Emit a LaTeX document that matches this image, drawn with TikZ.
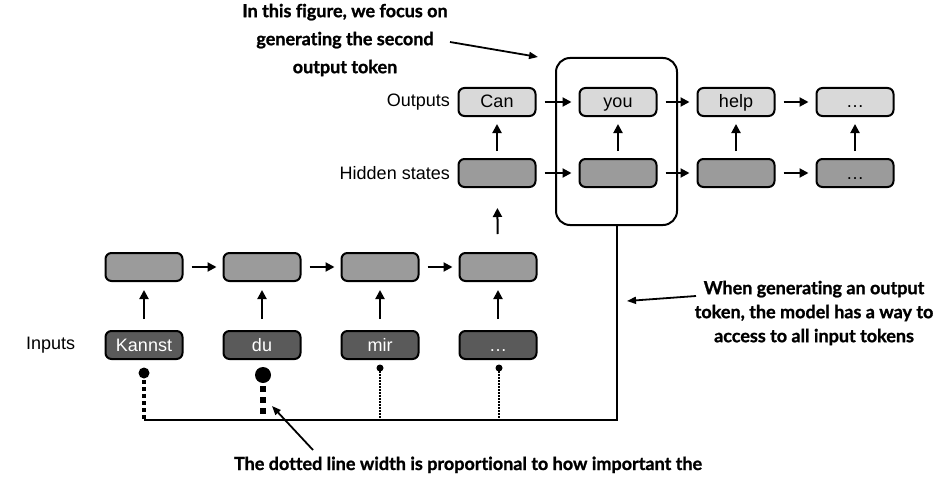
\documentclass[tikz,border=0pt]{standalone}
\usepackage{fontspec}
\setmainfont{Liberation Sans}
\newfontfamily\notefont[Ligatures=NoCommon, BoldFeatures={FakeBold=1.2}]{Lato}
\usetikzlibrary{arrows.meta}

\definecolor{outfill}{HTML}{D9D9D9}
\definecolor{hidfill}{HTML}{9B9B9B}
\definecolor{infill}{HTML}{5A5A5A}

\begin{document}
\begin{tikzpicture}[
    x=1pt, y=-1pt,
    every node/.style={font=\fontsize{18}{21}\selectfont, inner sep=0pt},
    box/.style={rectangle, draw, line width=2pt, rounded corners=6pt, minimum width=77pt, minimum height=28pt, text height=12pt, text depth=0pt, align=center},
    outbox/.style={box, fill=outfill},
    hidbox/.style={box, fill=hidfill},
    inbox/.style={box, fill=infill, text=white},
    focusbox/.style={rectangle, draw, line width=2pt, rounded corners=14pt, minimum width=121pt, minimum height=167pt},
    note/.style={align=center, font=\notefont\bfseries\fontsize{18}{#1}\selectfont},
    note/.default=28,
    dot/.style={circle, fill, inner sep=0pt},
    myarrow/.style={-{Triangle[length=9pt, width=9pt]}, line width=2pt},
    notearrow/.style={-{Triangle[length=9pt, width=7pt]}, line width=1.8pt},
    bus/.style={line width=2pt},
    implow/.style={line width=1.5pt, dash pattern=on 1.5pt off 1.5pt},
    impmid/.style={line width=4pt, dash pattern=on 4pt off 3pt},
    imphigh/.style={line width=6pt, dash pattern=on 6pt off 5pt}
]
\useasboundingbox (0,0) rectangle (941,476);
\clip (0,0) rectangle (941,476);

% ── Encoder: inputs and hidden states ──
\node[anchor=west] (lblin) at (26,345) {Inputs};
\node[inbox]  (in1) at (144,345) {Kannst};
\node[inbox]  (in2) at (262,345) {du};
\node[inbox]  (in3) at (380,345) {mir};
\node[inbox]  (in4) at (498,345) {\dots};
\node[hidbox] (enc1) at (144,267) {};
\node[hidbox] (enc2) at (262,267) {};
\node[hidbox] (enc3) at (380,267) {};
\node[hidbox] (enc4) at (498,267) {};

\draw[myarrow, shorten <=11pt, shorten >=8pt] (in1) -- (enc1);
\draw[myarrow, shorten <=11pt, shorten >=8pt] (in2) -- (enc2);
\draw[myarrow, shorten <=11pt, shorten >=8pt] (in3) -- (enc3);
\draw[myarrow, shorten <=11pt, shorten >=8pt] (in4) -- (enc4);
\draw[myarrow, shorten <=8pt, shorten >=6pt] (enc1) -- (enc2);
\draw[myarrow, shorten <=8pt, shorten >=6pt] (enc2) -- (enc3);
\draw[myarrow, shorten <=8pt, shorten >=6pt] (enc3) -- (enc4);

% ── Decoder: hidden states and outputs ──
\node[anchor=east] (lblout) at (450,102) {Outputs};
\node[anchor=east] (lblhid) at (450,173) {Hidden states};
\node[outbox] (out1) at (497,102) {Can};
\node[outbox] (out2) at (618,102) {you};
\node[outbox] (out3) at (736,102) {help};
\node[outbox] (out4) at (855,102) {\dots};
\node[hidbox] (dec1) at (497,173) {};
\node[hidbox] (dec2) at (618,173) {};
\node[hidbox] (dec3) at (736,173) {};
\node[hidbox] (dec4) at (855,173) {\dots};

\draw[myarrow, shorten <=18pt, shorten >=20pt] (enc4) -- (dec1);
\draw[myarrow, shorten <=7pt, shorten >=7pt] (dec1) -- (out1);
\draw[myarrow, shorten <=7pt, shorten >=7pt] (dec2) -- (out2);
\draw[myarrow, shorten <=7pt, shorten >=7pt] (dec3) -- (out3);
\draw[myarrow, shorten <=7pt, shorten >=7pt] (dec4) -- (out4);
\draw[myarrow, shorten <=8pt, shorten >=7pt] (dec1) -- (dec2);
\draw[myarrow, shorten <=8pt, shorten >=7pt] (dec2) -- (dec3);
\draw[myarrow, shorten <=8pt, shorten >=7pt] (dec3) -- (dec4);
\draw[myarrow, shorten <=8pt, shorten >=7pt] (out1) -- (out2);
\draw[myarrow, shorten <=8pt, shorten >=7pt] (out2) -- (out3);
\draw[myarrow, shorten <=8pt, shorten >=7pt] (out3) -- (out4);

% ── Focus box and attention lines ──
\node[focusbox] (focus) at (616.5,141.5) {};
\coordinate (busL) at (144,420);
\draw[bus] (busL) -| (focus.south);

\node[dot, minimum size=11pt] (att1) at (144,373) {};
\node[dot, minimum size=16pt] (att2) at (263,375) {};
\node[dot, minimum size=7pt]  (att3) at (380,368) {};
\node[dot, minimum size=7pt]  (att4) at (499,368) {};
\draw[impmid]  (att1.center) -- (att1 |- busL);
\draw[imphigh] (att2.center) -- (att2 |- busL);
\draw[implow]  (att3.center) -- (att3 |- busL);
\draw[implow]  (att4.center) -- (att4 |- busL);

% ── Notes ──
\node[note] (notetop) at (345,40) {In this figure, we focus on\\generating the second\\output token};
\node[note=24] (noteright) at (814,313) {When generating an output\\token, the model has a way to\\access to all input tokens};
\node[note, anchor=base] (notebottom) at (468,470) {The dotted line width is proportional to how important the};

\coordinate (toptail) at (450,42);
\coordinate (toptip) at (538,57);
\coordinate (righttail) at (696,296);
\coordinate (righttip) at (627,301);
\coordinate (bottail) at (313,450);
\coordinate (bottip) at (272,406);
\draw[notearrow] (toptail) -- (toptip);
\draw[notearrow] (righttail) -- (righttip);
\draw[notearrow] (bottail) -- (bottip);

\end{tikzpicture}
\end{document}
